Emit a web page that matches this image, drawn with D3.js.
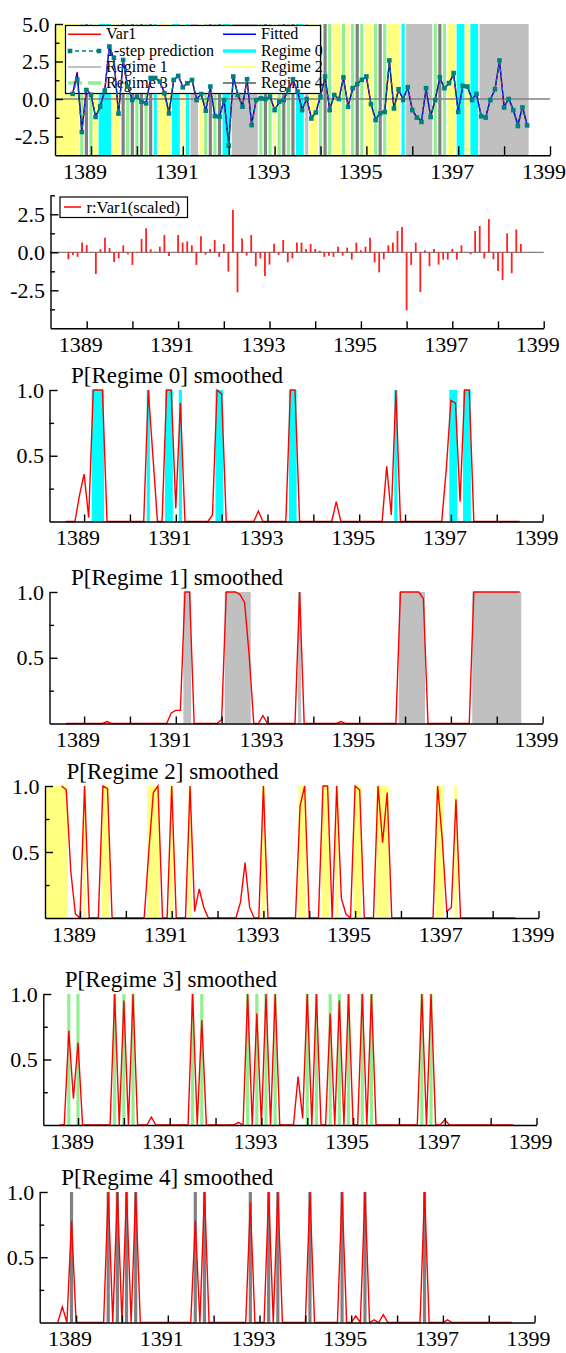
<!DOCTYPE html>
<html><head><meta charset="utf-8">
<script src="https://cdn.jsdelivr.net/npm/d3@7"></script>
<style>
body{margin:0;background:#fff}
svg{display:block}
text{font-family:"Liberation Serif","Times New Roman",serif;fill:#000}
</style>
</head><body>
<svg id="c" width="566" height="1353"></svg>
<script>
// ---------- time index ----------
const START = 1388.6, STEP = 0.1;

// ---------- data ----------
const var1 = [0.35,1.8,-2.2,0.65,0.3,-1.2,-0.55,0.55,3.6,2.6,
-1.05,2.6,0.8,-0.05,0.15,-0.2,-0.3,1.4,1.4,1.15,
0.4,-1.0,1.25,1.6,0.8,1.05,1.25,-0.05,0.35,-0.8,
0.8,-1.15,-1.2,-0.05,-3.1,1.55,0.25,-0.5,1.3,-1.75,
-0.05,0.05,0.0,0.15,-0.75,-0.2,-0.05,0.6,1.3,0.45,
-0.75,0.0,-1.3,-0.9,0.15,1.5,-0.75,0.25,0.0,1.45,
-0.5,0.7,1.0,1.3,1.5,-0.35,-1.4,-0.95,-0.85,2.55,
-0.65,0.65,-0.05,0.8,-0.75,-1.25,-1.5,0.7,-1.2,-0.05,
1.45,0.7,1.05,1.7,-0.85,0.9,0.85,-0.05,0.35,-1.15,
-1.25,-0.05,0.65,2.55,-0.55,0.0,-0.75,-1.8,-0.55,-1.75];

const fitted = [0.3,1.75,-2.1,0.6,0.35,-1.15,-0.5,0.6,3.5,2.65,
-1.0,2.5,0.85,-0.1,0.2,-0.15,-0.25,1.35,1.45,1.1,
0.45,-0.9,1.2,1.55,0.85,1.0,1.3,0.0,0.3,-0.75,
0.75,-1.1,-1.15,-0.1,-3.0,1.5,0.3,-0.45,1.25,-1.65,
0.0,0.1,-0.05,0.2,-0.7,-0.25,0.0,0.55,1.25,0.5,
-0.7,0.05,-1.25,-0.85,0.2,1.45,-0.7,0.3,-0.05,1.4,
-0.45,0.65,1.05,1.25,1.45,-0.3,-1.35,-0.9,-0.8,2.45,
-0.6,0.6,0.0,0.75,-0.7,-1.2,-1.45,0.65,-1.15,0.0,
1.4,0.75,1.0,1.65,-0.8,0.85,0.9,0.0,0.3,-1.1,
-1.2,0.0,0.6,2.5,-0.5,0.05,-0.7,-1.7,-0.5,-1.7];

const prediction = [0.34,1.3,-2.2,0.6,0.27,-1.2,-0.5,0.56,3.5,2.75,
-0.97,2.6,0.83,-0.07,0.16,-0.18,-0.29,1.4,1.4,1.17,
0.38,-0.96,1.27,1.54,0.78,1.05,1.27,-0.07,0.33,-0.78,
0.83,-1.14,-1.18,-0.07,-3.1,1.5,0.27,-0.51,1.32,-1.74,
-0.07,0.04,0.0,0.16,-0.74,-0.18,-0.07,0.6,1.32,0.5,
-0.74,0.0,-1.3,-0.9,0.16,1.5,-0.74,0.27,0.0,1.44,
-0.52,0.72,1.0,1.28,1.5,-0.34,-1.4,-0.97,-0.86,2.57,
-0.63,0.65,-0.07,0.79,-0.74,-1.24,-1.53,0.72,-1.2,-0.07,
1.46,0.72,1.06,1.73,-0.86,0.88,0.83,-0.07,0.34,-1.15,
-1.24,-0.07,0.65,2.57,-0.56,0.0,-0.74,-1.8,-0.56,-1.76];

const residual = [-0.46,-0.18,-0.3,0.64,0.48,0.02,-1.43,0.2,0.96,0.28,
-0.64,-0.4,0.46,-0.13,-0.83,-0.05,0.88,1.58,0.2,0.04,
0.37,1.14,-0.24,0.02,1.14,0.64,0.72,0.46,-0.83,1.05,
-0.15,0.22,0.81,-0.3,0.55,-1.27,2.78,-2.63,0.9,-0.22,
1.14,-0.92,-0.4,-1.56,-0.81,0.57,-0.18,0.81,-0.66,-0.4,
0.64,0.64,0.22,0.55,0.22,0.11,-0.3,-0.22,-0.3,0.37,
-0.22,0.31,-0.48,0.64,0.13,0.37,0.96,-0.66,-1.32,-0.46,
0.46,0.64,1.4,1.67,-3.82,-0.83,0.64,-2.61,0.13,-0.92,
0.22,-0.81,-0.48,-0.48,0.22,-0.48,0.46,0.0,-0.13,1.4,
1.73,-0.4,2.19,-0.46,-1.23,-1.82,1.25,-1.38,1.5,0.55];

// classified regime for each observation
const regime = [2,2,3,4,3,2,0,0,0,2,
2,4,3,4,3,4,3,4,0,2,
2,2,0,0,2,0,1,1,2,3,
4,3,4,0,0,1,1,1,1,1,
1,3,4,3,2,3,4,3,4,0,
0,1,2,2,3,4,3,2,2,3,
2,3,4,3,2,2,3,4,3,2,
2,2,0,1,1,1,1,1,1,3,
4,3,2,2,0,0,2,0,0,1,
1,1,1,1,1,1,1,1,1,1];

// smoothed regime probabilities
const p0 = [0,0,0,0.2,0.36,0.03,1,1,1,0,
0,0,0,0,0,0,0,0,1,0.5,
0,0,1,1,0.1,0.9,0,0,0,0,
0,0,0.05,1,0.97,0,0,0,0,0,
0,0,0.08,0,0,0,0,0,0,1,
1,0,0,0,0,0,0,0,0,0.15,
0,0,0,0,0,0,0,0,0,0,
0.42,0.05,1,0,0,0,0,0,0,0,
0,0,0,0.4,0.92,0.9,0.15,1,1,0,
0,0,0,0,0,0,0,0,0,0];

const p1 = [0,0,0,0,0,0,0,0,0,0.015,
0,0,0,0,0,0,0,0,0,0,
0,0,0,0.08,0.1,0.1,1,1,0,0,
0,0,0,0,0.03,1,1,1,0.98,0.92,
0.52,0,0,0.06,0,0,0,0,0,0,
0,1,0,0,0,0,0,0,0,0,
0.015,0,0,0,0,0,0,0,0,0,
0,0,0,1,1,1,1,1,0.95,0,
0,0,0,0,0,0,0,0,0,1,
1,1,1,1,1,1,1,1,1,1];

const p2 = [1,0.97,0.35,0.03,0,1,0,0,0,1,
0.98,0,0,0,0,0,0,0,0,0.5,
0.95,1,0,0,1,0,0,0,1,0.05,
0.22,0.08,0,0,0,0,0,0,0,0.12,
0.42,0.08,0,0,1,0,0,0,0,0,
0,0,0.85,1,0,0,0,1,1,0,
1,0.15,0.03,0,1,0.97,0,0,0,1,
0.57,0.95,0,0,0,0,0,0,0,0,
0,0,1,0.6,0.05,0.08,0.9,0,0,0,
0,0,0,0,0,0,0,0,0,0];

const p3 = [0,0,0.72,0.2,0.63,0,0,0,0,0,
0,0,1,0,0.95,0,1,0,0,0,
0.06,0,0,0,0,0,0,0,0,1,
0,0.8,0,0,0,0,0,0,0,0.02,
0,1,0,0.85,0,1,0,1,0,0,
0,0,0.37,0.05,1,0,1,0,0,0.85,
0,0.95,0,1,0,0,1,0,1,0,
0,0,0,0,0,0,0,0,0,1,
0,1,0,0,0.04,0,0,0,0,0,
0,0,0,0,0,0,0,0,0,0];

const p4 = [0,0.12,0,0.78,0,0,0,0,0,0,
0,1,0,1,0,1,0,1,0,0,
0,0,0,0,0,0,0,0,0,0,
0.78,0,1,0,0,0,0,0,0,0,
0,0,0.92,0,0,0,1,0,1,0,
0,0,0,0,0,1,0,0,0,0,
0,0,1,0,0,0.05,0,1,0,0.02,
0,0.06,0,0,0,0,0,0,0,0,
1,0,0,0,0,0.02,0,0,0,0,
0,0,0,0,0,0,0,0,0,0];

const probs = [p0, p1, p2, p3, p4];

// ---------- labels / ticks ----------
const xTickYears = [1389,1390,1391,1392,1393,1394,1395,1396,1397,1398,1399];
const xLabelYears = [1389,1391,1393,1395,1397,1399];
const topYMajor = [5, 2.5, 0, -2.5], topYMinor = [3.75, 1.25, -1.25];
const resYMajor = [2.5, 0, -2.5], resYMinor = [3.75, 1.25, -1.25, -3.75];
const regYMajor = [1, 0.5], regYMinor = [0.75, 0.25];
const regimeNames = ["Regime 0","Regime 1","Regime 2","Regime 3","Regime 4"];
const regimeColors = ["#00ffff","#c0c0c0","#ffff80","#90f090","#808080"];

// ---------- layout ----------
const TOP = {L:55, X0:91, yr:45.9, yTop:24, yBot:155.25};
const RES = {L:50.5, X0:86.7, yr:45.7, yTop:195.3, yBot:328.3};
const REG = [
  {L:49.5, X0:84.1, y1:390,  y0:521.5},
  {L:49.5, X0:84.1, y1:592,  y0:723.5},
  {L:45,   X0:80,   y1:786,  y0:918},
  {L:43.3, X0:78,   y1:994,  y0:1125},
  {L:39.7, X0:76.1, y1:1192, y0:1322.5}
];

const svg = d3.select("#c");
const tOf = i => START + i*STEP;

function makeX(L, X0, yr){
  return d3.scaleLinear().domain([1389 - (X0-L)/yr, 1399]).range([L, X0 + 10*yr]);
}

function runs(){
  const out=[]; let s=0;
  for(let i=0;i<regime.length;i++){
    if(i===regime.length-1 || regime[i+1]!==regime[s]){ out.push({s:s,e:i,r:regime[s]}); s=i+1; }
  }
  return out;
}

function drawBands(g, x, yTop, yBot, list){
  const HW = 1.6;
  const x0 = d => d.s===0 ? x.range()[0] : x(tOf(d.s))-HW;
  g.selectAll(null).data(list).join("rect")
    .attr("x", x0)
    .attr("width", d => x(tOf(d.e))+HW - x0(d))
    .attr("y", yTop).attr("height", yBot-yTop)
    .attr("fill", d => regimeColors[d.r]);
}

function styleAxis(sel){
  sel.selectAll("path,line").attr("stroke","#000").attr("stroke-width",1.4);
}

function drawAxes(g, x, y, yAxisY, xTickLen, yMajor, yMinor, yLabels){
  const L = x.range()[0];
  g.append("g").attr("transform",`translate(0,${yAxisY})`)
    .call(d3.axisBottom(x).tickValues(xTickYears).tickSize(-xTickLen).tickSizeOuter(0).tickFormat(""))
    .call(styleAxis);
  g.append("g").attr("transform",`translate(${L},0)`)
    .call(d3.axisLeft(y).tickValues(yMajor).tickSize(-8).tickSizeOuter(0).tickFormat(""))
    .call(styleAxis);
  const mn = g.append("g").attr("transform",`translate(${L},0)`)
    .call(d3.axisLeft(y).tickValues(yMinor).tickSize(-4.5).tickSizeOuter(0).tickFormat(""));
  mn.select(".domain").remove();
  styleAxis(mn);
  g.selectAll(null).data(xLabelYears).join("text")
    .attr("x", d => x(d)-6).attr("y", yAxisY+23.5)
    .attr("text-anchor","middle").attr("font-size",22).text(d => d);
  g.selectAll(null).data(yMajor.map((v,i)=>({v, t:yLabels[i]}))).join("text")
    .attr("x", L-5.5).attr("y", d => y(d.v)+7.5)
    .attr("text-anchor","end").attr("font-size",22).text(d => d.t);
}

// ================= TOP PANEL =================
{
  const g = svg.append("g");
  const x = makeX(TOP.L, TOP.X0, TOP.yr);
  const y = d3.scaleLinear().domain([-3.75, 5]).range([TOP.yBot, TOP.yTop]);
  drawBands(g, x, TOP.yTop, TOP.yBot, runs());
  g.append("line").attr("x1",TOP.L).attr("x2",x.range()[1])
    .attr("y1",y(0)).attr("y2",y(0)).attr("stroke","#808080").attr("stroke-width",1.5);

  // legend
  const lg = g.append("g");
  lg.append("rect").attr("x",65.5).attr("y",25.5).attr("width",255).attr("height",68)
    .attr("fill","#fff").attr("stroke","#000").attr("stroke-width",1.2);
  const legendItems = [
    {t:"Var1", c:"#ff0000", w:1.5, dash:null, col:0, row:0},
    {t:"Fitted", c:"#0000ff", w:1.5, dash:null, col:1, row:0},
    {t:"1-step prediction", c:"#008080", w:1.5, dash:"4,3", col:0, row:1, mk:true},
    {t:regimeNames[0], c:regimeColors[0], w:3.5, dash:null, col:1, row:1},
    {t:regimeNames[1], c:regimeColors[1], w:2, dash:null, col:0, row:2},
    {t:regimeNames[2], c:regimeColors[2], w:2, dash:null, col:1, row:2},
    {t:regimeNames[3], c:regimeColors[3], w:3.5, dash:"14,6", col:0, row:3},
    {t:regimeNames[4], c:regimeColors[4], w:2, dash:null, col:1, row:3}
  ];
  const colX = [68, 223], rowY = [34.3, 51, 67, 83];
  legendItems.forEach(d => {
    const lx = colX[d.col], ly = rowY[d.row];
    const ln = lg.append("line").attr("x1",lx).attr("x2",lx+33).attr("y1",ly).attr("y2",ly)
      .attr("stroke",d.c).attr("stroke-width",d.w);
    if(d.dash) ln.attr("stroke-dasharray",d.dash);
    if(d.mk){ [lx+2, lx+31].forEach(mx => lg.append("rect").attr("x",mx-2.3).attr("y",ly-2.3)
      .attr("width",4.6).attr("height",4.6).attr("fill","#008080")); }
    lg.append("text").attr("x",lx+38).attr("y",ly+5).attr("font-size",16).text(d.t);
  });

  const line = d3.line().x((d,i)=>x(tOf(i))).y(d=>y(d));
  g.append("path").attr("d", line(var1)).attr("fill","none").attr("stroke","#ff0000").attr("stroke-width",1.4);
  g.append("path").attr("d", line(fitted)).attr("fill","none").attr("stroke","#0000ff").attr("stroke-width",1.2);
  g.append("path").attr("d", line(prediction)).attr("fill","none").attr("stroke","#008080")
    .attr("stroke-width",1.4).attr("stroke-dasharray","3,3");
  g.selectAll(null).data(prediction).join("rect")
    .attr("x",(d,i)=>x(tOf(i))-2.3).attr("y",d=>y(d)-2.3).attr("width",4.6).attr("height",4.6)
    .attr("fill","#008080");

  drawAxes(g, x, y, TOP.yBot, 9, topYMajor, topYMinor, ["5.0","2.5","0.0","-2.5"]);
}

// ================= RESIDUAL PANEL =================
{
  const g = svg.append("g");
  const x = makeX(RES.L, RES.X0, RES.yr);
  const y = d3.scaleLinear().domain([-5, 3.75]).range([RES.yBot, RES.yTop]);
  g.append("line").attr("x1",RES.L).attr("x2",x.range()[1])
    .attr("y1",y(0)).attr("y2",y(0)).attr("stroke","#808080").attr("stroke-width",1.2);
  g.selectAll(null).data(residual).join("line")
    .attr("x1",(d,i)=>x(tOf(i))).attr("x2",(d,i)=>x(tOf(i)))
    .attr("y1",y(0)).attr("y2",d=>y(d))
    .attr("stroke","#ff2020").attr("stroke-width",1.8);
  // legend
  g.append("rect").attr("x",60).attr("y",197).attr("width",127.5).attr("height",20.5)
    .attr("fill","#fff").attr("stroke","#000").attr("stroke-width",1.2);
  g.append("line").attr("x1",64).attr("x2",81).attr("y1",207).attr("y2",207)
    .attr("stroke","#ff0000").attr("stroke-width",1.5);
  g.append("text").attr("x",86.5).attr("y",212.5).attr("font-size",16.5).text("r:Var1(scaled)");
  drawAxes(g, x, y, RES.yBot, 7, resYMajor, resYMinor, ["2.5","0.0","-2.5"]);
}

// ================= REGIME PROBABILITY PANELS =================
REG.forEach((lay, r) => {
  const g = svg.append("g");
  const x = makeX(lay.L, lay.X0, 45.85);
  const y = d3.scaleLinear().domain([0, 1]).range([lay.y0, lay.y1]);
  drawBands(g, x, lay.y1, lay.y0, runs().filter(d => d.r===r));
  const line = d3.line().x((d,i)=>x(tOf(i))).y(d=>y(d));
  g.append("path").attr("d", line(probs[r])).attr("fill","none")
    .attr("stroke","#ff0000").attr("stroke-width",1.4);
  drawAxes(g, x, y, lay.y0, 7, regYMajor, regYMinor, ["1.0","0.5"]);
  g.append("text").attr("x", lay.L+21.5).attr("y", lay.y1-7).attr("font-size",23)
    .text(`P[${regimeNames[r]}] smoothed`);
});
</script>
</body></html>
